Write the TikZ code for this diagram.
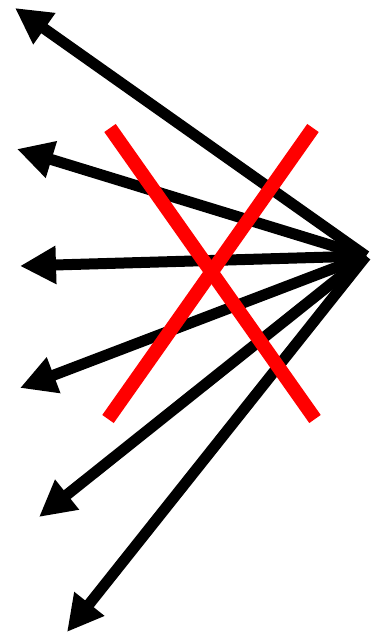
\documentclass[tikz,border=0pt]{standalone}
\usetikzlibrary{arrows.meta}
\begin{document}
\begin{tikzpicture}[x=1pt, y=-1pt,
    ray/.style={line width=11pt, -{Triangle[length=36pt, width=36pt]}},
    cross/.style={red, line width=14pt}]
            \useasboundingbox (0, 0) rectangle (370, 634);
            % Points
            \coordinate (hub) at (366, 256);
            \coordinate (A) at (15, 8);
            \coordinate (B) at (17, 149);
            \coordinate (C) at (20, 266);
            \coordinate (D) at (20, 388);
            \coordinate (E) at (39, 517);
            \coordinate (F) at (67, 632);
            \coordinate (X1) at (110, 128);
            \coordinate (X2) at (315, 419);
            \coordinate (X3) at (313, 128);
            \coordinate (X4) at (108, 419);

            % Arrows
            \draw[ray] (hub) -- (A);
            \draw[ray] (hub) -- (B);
            \draw[ray] (hub) -- (C);
            \draw[ray] (hub) -- (D);
            \draw[ray] (hub) -- (E);
            \draw[ray] (hub) -- (F);

            % Cross
            \draw[cross] (X1) -- (X2);
            \draw[cross] (X3) -- (X4);
        \end{tikzpicture}
\end{document}
